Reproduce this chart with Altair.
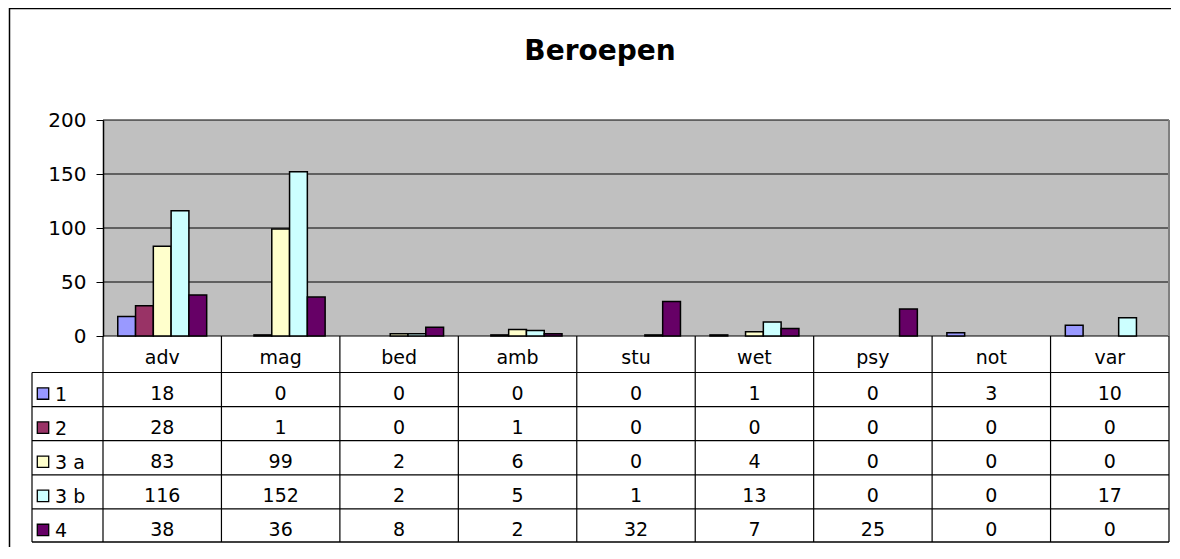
import altair as alt
import pandas as pd

# ---- data ----
categories = ["adv", "mag", "bed", "amb", "stu", "wet", "psy", "not", "var"]
series_names = ["1", "2", "3 a", "3 b", "4"]
s1 = [18, 0, 0, 0, 0, 1, 0, 3, 10]
s2 = [28, 1, 0, 1, 0, 0, 0, 0, 0]
s3a = [83, 99, 2, 6, 0, 4, 0, 0, 0]
s3b = [116, 152, 2, 5, 1, 13, 0, 0, 17]
s4 = [38, 36, 8, 2, 32, 7, 25, 0, 0]
y_ticks = [0, 50, 100, 150, 200]
title_text = "Beroepen"
colors = ["#9999FF", "#993366", "#FFFFCC", "#CCFFFF", "#660066"]

rows = []
for name, vals in zip(series_names, [s1, s2, s3a, s3b, s4]):
    for c, v in zip(categories, vals):
        rows.append({"cat": c, "series": name, "value": v})
df = pd.DataFrame(rows)
cat_df = pd.DataFrame({"cat": categories})
ser_df = pd.DataFrame({"series": series_names})
tick_df = pd.DataFrame({"tick": y_ticks})
one = pd.DataFrame({"k": [0]})

# ---- layout (pixels, relative to plot origin) ----
W = 1066
PLOT_H = 216
H = 423
ROW_TOP = 252.5
LEG_LEFT = -71
FONT = "DejaVu Sans"

xscale = alt.Scale(domain=categories, range=[0, W], paddingInner=0, paddingOuter=0)
yscale = alt.Scale(domain=[0, 200], range=[PLOT_H, 0], nice=False)
rowscale = alt.Scale(domain=series_names, range=[ROW_TOP, H], paddingInner=0, paddingOuter=0)
cscale = alt.Scale(domain=series_names, range=colors)

bg = alt.Chart(one).mark_rect(fill="#C0C0C0").encode(
    x=alt.value(0), x2=alt.value(W), y=alt.value(0), y2=alt.value(PLOT_H)
)

grid = alt.Chart(tick_df).mark_rule(color="black", strokeWidth=1).encode(
    y=alt.Y("tick:Q", scale=yscale, axis=None),
    x=alt.value(0), x2=alt.value(W),
)

plot_right = alt.Chart(one).mark_rule(color="#808080", strokeWidth=2).encode(
    x=alt.value(W), y=alt.value(0), y2=alt.value(PLOT_H)
)

bars = alt.Chart(df).transform_filter("datum.value > 0").mark_bar(
    stroke="black", strokeWidth=1.5
).encode(
    x=alt.X("cat:N", scale=xscale, axis=None, sort=categories),
    xOffset=alt.XOffset("series:N", scale=alt.Scale(domain=series_names, paddingInner=0, paddingOuter=0.83)),
    y=alt.Y("value:Q", scale=yscale,
            axis=alt.Axis(values=y_ticks, grid=False, title=None, domainColor="black",
                          domainWidth=1.5, tickColor="black", tickSize=7, tickWidth=1,
                          labelFont=FONT, labelFontSize=20, labelColor="black",
                          labelPadding=10, zindex=1)),
    color=alt.Color("series:N", scale=cscale, legend=None),
)

# table grid
hlines = alt.Chart(ser_df).mark_rule(color="black", strokeWidth=1.2).encode(
    y=alt.Y("series:N", scale=rowscale, axis=None, bandPosition=0),
    x=alt.value(LEG_LEFT), x2=alt.value(W),
)
hbottom = alt.Chart(one).mark_rule(color="black", strokeWidth=1.5).encode(
    y=alt.value(H - 1), x=alt.value(LEG_LEFT), x2=alt.value(W)
)
vlines = alt.Chart(cat_df).mark_rule(color="black", strokeWidth=1.2).encode(
    x=alt.X("cat:N", scale=xscale, axis=None, bandPosition=0),
    y=alt.value(PLOT_H), y2=alt.value(H - 1),
)
vright = alt.Chart(one).mark_rule(color="black", strokeWidth=1.2).encode(
    x=alt.value(W), y=alt.value(PLOT_H), y2=alt.value(H - 1)
)
vleft = alt.Chart(one).mark_rule(color="black", strokeWidth=1.2).encode(
    x=alt.value(LEG_LEFT), y=alt.value(ROW_TOP), y2=alt.value(H - 1)
)

header = alt.Chart(cat_df).mark_text(
    font=FONT, fontSize=19, color="black", baseline="alphabetic", align="center"
).encode(
    x=alt.X("cat:N", scale=xscale, axis=None),
    y=alt.value(243.5),
    text="cat:N",
)

cells = alt.Chart(df).mark_text(
    font=FONT, fontSize=19, color="black", baseline="alphabetic", align="center", dy=10
).encode(
    x=alt.X("cat:N", scale=xscale, axis=None),
    y=alt.Y("series:N", scale=rowscale, axis=None),
    text="value:Q",
)

leg_sym = alt.Chart(ser_df).mark_square(size=130, stroke="black", strokeWidth=1.3,
                                        opacity=1, yOffset=4).encode(
    x=alt.value(-60),
    y=alt.Y("series:N", scale=rowscale, axis=None),
    fill=alt.Color("series:N", scale=cscale, legend=None),
)
leg_txt = alt.Chart(ser_df).mark_text(
    font=FONT, fontSize=19, color="black", baseline="alphabetic", align="left", dy=11
).encode(
    x=alt.value(-48),
    y=alt.Y("series:N", scale=rowscale, axis=None),
    text="series:N",
)

border_top = alt.Chart(one).mark_rule(color="black", strokeWidth=1.5).encode(
    x=alt.value(-94), x2=alt.value(1100), y=alt.value(-111.5)
)
border_left = alt.Chart(one).mark_rule(color="black", strokeWidth=1.5).encode(
    x=alt.value(-93.5), y=alt.value(-112), y2=alt.value(H + 20)
)

title = alt.Chart(one).mark_text(
    text=title_text, font=FONT, fontSize=28, fontWeight="bold", color="black",
    align="center", baseline="alphabetic"
).encode(x=alt.value(497), y=alt.value(-60.5))

chart = alt.layer(
    bg, grid, plot_right, bars, hlines, hbottom, vlines, vright, vleft,
    header, cells, leg_sym, leg_txt, border_top, border_left, title
).resolve_scale(y="independent").properties(
    width=W, height=H,
    autosize=alt.AutoSizeParams(type="none"),
    padding={"left": 95, "top": 112, "right": 2, "bottom": 4},
    background="white",
).configure_view(stroke=None)

chart.save("out.html", embed_options={"renderer": "svg", "actions": False})
